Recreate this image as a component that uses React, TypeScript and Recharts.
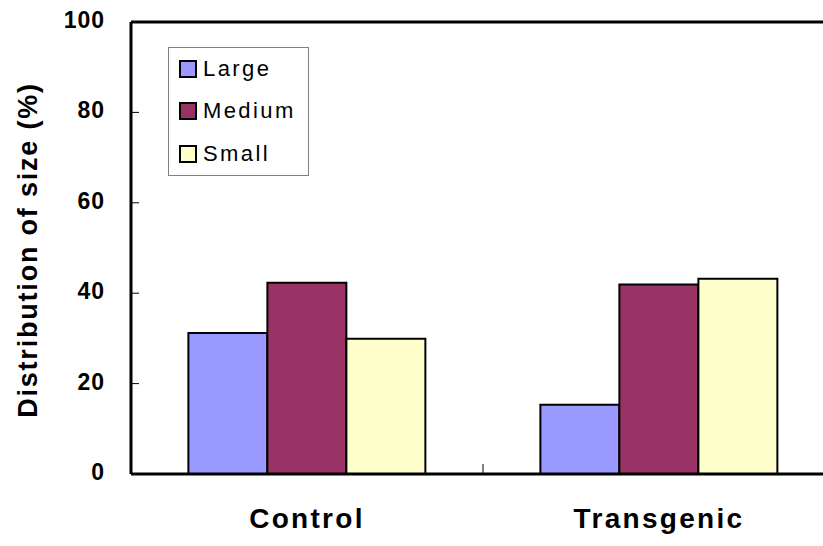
import { Bar, BarChart, ReferenceLine, XAxis, YAxis } from "recharts";

const groups = ["Control", "Transgenic"];
const large = [31.2, 15.3];
const medium = [42.3, 41.9];
const small = [29.9, 43.2];
const yTicks = [0, 20, 40, 60, 80, 100];

const SERIES = [
  { key: "Large", fill: "#9999FF", values: large },
  { key: "Medium", fill: "#993366", values: medium },
  { key: "Small", fill: "#FFFFCC", values: small },
];

const data = groups.map((name, i) => ({
  name,
  Large: large[i],
  Medium: medium[i],
  Small: small[i],
}));

const FONT = "'Liberation Sans', Arial, Helvetica, sans-serif";

function CategoryTick(props: any) {
  const { x, y, payload, index } = props;
  const half = payload?.offset ?? 0;
  return (
    <g>
      {index === 0 && (
        <line x1={x + half} x2={x + half} y1={y} y2={y - 10} stroke="#000" strokeWidth={1} />
      )}
      <text
        x={x}
        y={y + 54}
        textAnchor="middle"
        fontFamily={FONT}
        fontWeight="bold"
        fontSize={28}
        letterSpacing={2.3}
        fill="#000"
      >
        {payload.value}
      </text>
    </g>
  );
}

function ValueTick(props: any) {
  const { x, y, payload } = props;
  return (
    <text
      x={x}
      y={y - 2}
      textAnchor="end"
      dominantBaseline="central"
      fontFamily={FONT}
      fontWeight="bold"
      fontSize={23}
      letterSpacing={1}
      fill="#000"
    >
      {payload.value}
    </text>
  );
}

function YLabel(props: any) {
  const vb = props.viewBox ?? { x: 0, y: 0, width: 0, height: 0 };
  const cx = vb.x + 28;
  const cy = vb.y + vb.height / 2 + 2;
  return (
    <text
      x={cx}
      y={cy}
      transform={`rotate(-90, ${cx}, ${cy})`}
      textAnchor="middle"
      dominantBaseline="central"
      fontFamily={FONT}
      fontWeight="bold"
      fontSize={27}
      letterSpacing={1.8}
      fill="#000"
    >
      Distribution of size (%)
    </text>
  );
}

function LegendBox() {
  return (
    <div
      style={{
        position: "absolute",
        left: 168,
        top: 47,
        width: 141,
        border: "1px solid #808080",
        background: "#fff",
        fontFamily: FONT,
        boxSizing: "border-box",
      }}
    >
      {SERIES.map((s) => (
        <div
          key={s.key}
          style={{ height: 42.3, display: "flex", alignItems: "center", paddingLeft: 10 }}
        >
          <span
            style={{
              width: 14,
              height: 14,
              background: s.fill,
              border: "2px solid #000",
              display: "inline-block",
              marginRight: 6,
            }}
          />
          <span style={{ fontSize: 22, letterSpacing: 2.4, color: "#000", lineHeight: "22px" }}>
            {s.key}
          </span>
        </div>
      ))}
    </div>
  );
}

export default function App() {
  return (
    <div
      style={{
        position: "absolute",
        left: 0,
        top: 0,
        width: 823,
        height: 546,
        overflow: "hidden",
        background: "#fff",
      }}
    >
      <BarChart
        width={840}
        height={546}
        data={data}
        margin={{ top: 22, right: 5, bottom: 12, left: 0 }}
        barCategoryGap="16.3%"
        barGap={0}
      >
        <XAxis
          dataKey="name"
          height={60}
          axisLine={{ stroke: "#000", strokeWidth: 3 }}
          tickLine={false}
          tickSize={0}
          tickMargin={0}
          tick={<CategoryTick />}
        />
        <YAxis
          width={131}
          domain={[0, 100]}
          ticks={yTicks}
          interval={0}
          axisLine={{ stroke: "#000", strokeWidth: 3 }}
          tickLine={{ stroke: "#000", strokeWidth: 1 }}
          tickSize={-8}
          tickMargin={34}
          tick={<ValueTick />}
          label={<YLabel />}
        />
        <ReferenceLine y={100} stroke="#000" strokeWidth={3} />
        {SERIES.map((s) => (
          <Bar
            key={s.key}
            dataKey={s.key}
            fill={s.fill}
            stroke="#000"
            strokeWidth={2}
            isAnimationActive={false}
          />
        ))}
      </BarChart>
      <LegendBox />
    </div>
  );
}
